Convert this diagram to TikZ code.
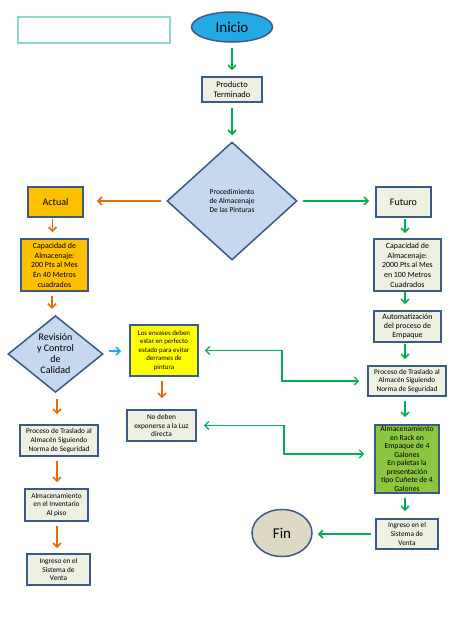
\documentclass[tikz,border=0pt]{standalone}
\usepackage{fontspec}
\setmainfont{Carlito}
\usetikzlibrary{shapes.geometric,arrows.meta}
\definecolor{bord}{HTML}{3C5A87}
\definecolor{boxfill}{HTML}{EEF0E2}
\definecolor{orfill}{HTML}{FFC000}
\definecolor{yel}{HTML}{FFFF00}
\definecolor{grfill}{HTML}{8CC640}
\definecolor{dmfill}{HTML}{C6D8F0}
\definecolor{inifill}{HTML}{22A9E6}
\definecolor{finfill}{HTML}{DDD9C4}
\definecolor{garrc}{HTML}{00B050}
\definecolor{oarrc}{HTML}{E46C0A}
\definecolor{carrc}{HTML}{1CB0EA}
\definecolor{tealb}{HTML}{93D6C2}
\tikzset{
  bx/.style={draw=bord, line width=1.7pt, fill=boxfill, rectangle, inner sep=0pt, align=center, text=black},
  dm/.style={draw=bord, line width=1.5pt, fill=dmfill, diamond, inner sep=0pt, align=center},
  arrbase/.style={line width=1.6pt, -{Straight Barb[length=4pt,width=8pt]}},
  garr/.style={arrbase, draw=garrc},
  oarr/.style={arrbase, draw=oarrc},
  carr/.style={arrbase, draw=carrc},
  dgarr/.style={line width=1.3pt, draw=garrc, {Straight Barb[length=4pt,width=8pt]}-{Straight Barb[length=4pt,width=8pt]}},
  small/.style={font=\fontsize{7.3}{8.6}\selectfont},
}
\begin{document}
\begin{tikzpicture}[x=1pt,y=-1pt]
\useasboundingbox (0,0) rectangle (474,632);
\fill[white] (0,0) rectangle (474,632);

\node[draw=tealb, line width=1.3pt, fill=white, minimum width=152pt, minimum height=26pt, inner sep=0pt] (topbox) at (94,30) {};

\node[ellipse, draw=bord, line width=1.5pt, fill=inifill, minimum width=81pt, minimum height=30pt, inner sep=0pt, font=\fontsize{15}{17}\selectfont] (inicio) at (232,27) {Inicio};

\node[bx, minimum width=60pt, minimum height=25pt, font=\fontsize{8.5}{10.5}\selectfont] (prod) at (232,89.5) {Producto\\Terminado};

\node[dm, minimum width=130pt, minimum height=118pt, font=\fontsize{7.5}{9.3}\selectfont] (proc) at (232,201) {Procedimiento\\de Almacenaje\\De las Pinturas};

\node[bx, fill=orfill, minimum width=55pt, minimum height=30pt, font=\fontsize{10}{12}\selectfont] (actual) at (55.5,202) {Actual};
\node[bx, minimum width=55pt, minimum height=30pt, font=\fontsize{10}{12}\selectfont] (futuro) at (403.5,202) {Futuro};

\node[bx, fill=orfill, minimum width=67pt, minimum height=52pt, font=\fontsize{7.9}{9.7}\selectfont] (capA) at (54.5,265) {Capacidad de\\Almacenaje:\\200 Pts al Mes\\En 40 Metros\\cuadrados};
\node[bx, minimum width=67pt, minimum height=52pt, font=\fontsize{7.9}{9.7}\selectfont] (capF) at (407.5,265) {Capacidad de\\Almacenaje:\\2000 Pts al Mes\\en 100 Metros\\Cuadrados};

\node[dm, minimum width=95pt, minimum height=72pt, font=\fontsize{10}{11}\selectfont] (rev) at (55.5,354) {Revisión\\y Control\\de\\Calidad};

\node[bx, minimum width=67pt, minimum height=31pt, font=\fontsize{7.9}{9.3}\selectfont] (auto) at (407.5,326.5) {Automatización\\del proceso de\\Empaque};

\node[bx, fill=yel, minimum width=68pt, minimum height=51pt, font=\fontsize{6.9}{8.6}\selectfont] (yellow) at (164,350.5) {Los envases deben\\estar en perfecto\\estado para evitar\\derrames de\\pintura};

\node[bx, small, minimum width=78pt, minimum height=30pt] (procF) at (407,381) {Proceso de Traslado al\\Almacén Siguiendo\\Norma de Seguridad};

\node[bx, small, minimum width=69pt, minimum height=31pt] (noben) at (161.5,425.5) {No deben\\exponerse a la Luz\\directa};

\node[bx, fill=grfill, minimum width=64pt, minimum height=68pt, font=\fontsize{7.7}{8.5}\selectfont] (rack) at (407,459) {Almacenamiento\\en Rack en\\Empaque de 4\\Galones\\En paletas la\\presentación\\tipo Cuñete de 4\\Galones};

\node[bx, small, minimum width=78pt, minimum height=31pt] (procA) at (59,440.5) {Proceso de Traslado al\\Almacén Siguiendo\\Norma de Seguridad};

\node[bx, small, minimum width=63pt, minimum height=32pt] (almA) at (56.5,505) {Almacenamiento\\en el Inventario\\Al piso};

\node[bx, small, minimum width=62pt, minimum height=30pt] (ingF) at (407,534) {Ingreso en el\\Sistema de\\Venta};

\node[ellipse, draw=bord, line width=1.5pt, fill=finfill, minimum width=60pt, minimum height=47pt, inner sep=0pt, font=\fontsize{15}{17}\selectfont] (fin) at (282,533) {Fin};

\node[bx, small, minimum width=63pt, minimum height=31pt] (ingA) at (58.5,569.5) {Ingreso en el\\Sistema de\\Venta};

% connectors
\draw[garr, shorten <=5pt, shorten >=6pt] (inicio.south) -- (prod.north);
\draw[garr, shorten <=5pt, shorten >=6pt] (prod.south) -- (proc.north);
\draw[oarr, shorten <=5pt, shorten >=13pt] (proc.west) -- (proc.west -| actual.east);
\draw[garr, shorten <=5pt, shorten >=6pt] (proc.east) -- (proc.east -| futuro.west);

\draw[oarr, shorten <=1pt, shorten >=6pt] ([xshift=-3pt]actual.south) -- ([xshift=-3pt]actual.south |- capA.north);
\draw[garr, shorten <=1pt, shorten >=5pt] ([xshift=1.5pt]futuro.south) -- ([xshift=1.5pt]futuro.south |- capF.north);
\draw[oarr, shorten <=4pt, shorten >=6pt] ([xshift=-2.5pt]capA.south) -- ([xshift=-2.5pt]capA.south |- rev.north);
\draw[garr, shorten <=0pt, shorten >=6pt] ([xshift=-2.5pt]capF.south) -- ([xshift=-2.5pt]capF.south |- auto.north);
\draw[carr, shorten <=5pt, shorten >=8pt] ([yshift=3pt]rev.east) -- ([yshift=3pt]rev.east -| yellow.west);
\draw[oarr, shorten <=4pt, shorten >=11pt] ([xshift=-2pt]yellow.south) -- ([xshift=-2pt]yellow.south |- noben.north);
\draw[oarr, shorten <=6pt, shorten >=10pt] ([xshift=1.5pt]rev.south) -- ([xshift=1.5pt]rev.south |- procA.north);
\draw[garr, shorten <=1pt, shorten >=6pt] ([xshift=-2.5pt]auto.south) -- ([xshift=-2.5pt]auto.south |- procF.north);
\draw[garr, shorten <=4pt, shorten >=7pt] ([xshift=-2pt]procF.south) -- ([xshift=-2pt]procF.south |- rack.north);
\draw[oarr, shorten <=4pt, shorten >=6pt] ([xshift=-2pt]procA.south) -- ([xshift=-2pt]procA.south |- almA.north);
\draw[garr, shorten <=4pt, shorten >=7pt] ([xshift=-2pt]rack.south) -- ([xshift=-2pt]rack.south |- ingF.north);
\draw[oarr, shorten <=4pt, shorten >=5pt] ([xshift=0.5pt]almA.south) -- ([xshift=0.5pt]almA.south |- ingA.north);
\draw[garr, shorten <=4pt, shorten >=5pt] (ingF.west) -- (ingF.west -| fin.east);

\coordinate (m1) at (282,351);
\coordinate (m2) at (284,425);
\draw[dgarr, shorten <=6pt, shorten >=8pt] (yellow.east) -- (yellow.east -| m1) -- (procF.west -| m1) -- (procF.west);
\draw[dgarr, shorten <=7pt, shorten >=10pt] (noben.east) -- (noben.east -| m2) -- ([yshift=5pt]rack.west -| m2) -- ([yshift=5pt]rack.west);
\end{tikzpicture}
\end{document}
